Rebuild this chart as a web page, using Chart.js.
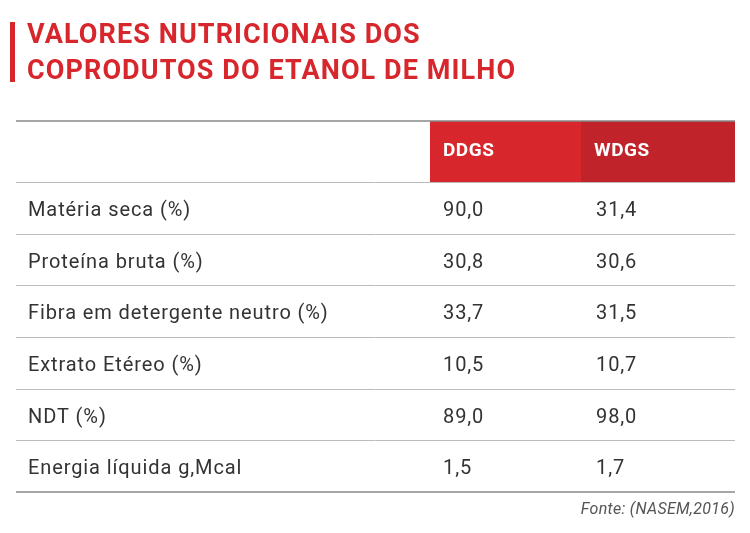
<!DOCTYPE html>
<html>
<head>
<meta charset="utf-8">
<script src="https://cdn.jsdelivr.net/npm/chart.js@4"></script>
<style>
  html, body { margin: 0; padding: 0; background: #fff; }
  #wrap { width: 750px; height: 533px; position: relative; }
</style>
</head>
<body>
<div id="wrap"><canvas id="tableChart"></canvas></div>
<script>
const titleLines = ['VALORES NUTRICIONAIS DOS', 'COPRODUTOS DO ETANOL DE MILHO'];
const columns = ['DDGS', 'WDGS'];
const categories = [
  'Matéria seca (%)',
  'Proteína bruta (%)',
  'Fibra em detergente neutro (%)',
  'Extrato Etéreo (%)',
  'NDT (%)',
  'Energia líquida g,Mcal'
];
const ddgsValues = [90.0, 30.8, 33.7, 10.5, 89.0, 1.5];
const wdgsValues = [31.4, 30.6, 31.5, 10.7, 98.0, 1.7];
const source = 'Fonte: (NASEM,2016)';

const fmt = v => v.toFixed(1).replace('.', ',');

// Draws the table on top of the (invisible) bars, rows placed by the y scale
const tablePlugin = {
  id: 'tablePlugin',
  afterDraw(chart) {
    const ctx = chart.ctx;
    const y = chart.scales.y;
    const area = chart.chartArea;
    const colX = [430, 581];
    const headTop = 121;
    const rowH = (area.bottom - area.top) / categories.length;
    ctx.save();

    // title
    ctx.fillStyle = '#d7262c';
    ctx.fillRect(10, 22, 5, 60);
    ctx.font = 'bold 27px Roboto, sans-serif';
    ctx.letterSpacing = '1.1px';
    ctx.textBaseline = 'middle';
    titleLines.forEach((t, i) => ctx.fillText(t, 27, 36 + i * 36));

    // header cells
    ctx.fillStyle = '#d7262c';
    ctx.fillRect(colX[0], headTop, colX[1] - colX[0], area.top - headTop);
    ctx.fillStyle = '#c1232a';
    ctx.fillRect(colX[1], headTop, area.right - colX[1], area.top - headTop);
    ctx.fillStyle = '#fff';
    ctx.font = 'bold 19px Roboto, sans-serif';
    ctx.letterSpacing = '0.5px';
    columns.forEach((c, i) => ctx.fillText(c, colX[i] + 13, (headTop + area.top) / 2));

    // lines
    ctx.strokeStyle = '#888';
    ctx.lineWidth = 1.5;
    [headTop, area.bottom].forEach(ly => {
      ctx.beginPath(); ctx.moveTo(area.left, ly); ctx.lineTo(area.right, ly); ctx.stroke();
    });
    ctx.strokeStyle = '#bbb';
    ctx.lineWidth = 1;
    for (let i = 0; i < categories.length; i++) {
      const ly = Math.round(y.getPixelForValue(i) - rowH / 2) + 0.5;
      ctx.beginPath(); ctx.moveTo(area.left, ly); ctx.lineTo(area.right, ly); ctx.stroke();
    }

    // cells
    ctx.fillStyle = '#333';
    ctx.font = '20px Roboto, sans-serif';
    ctx.letterSpacing = '0.9px';
    categories.forEach((c, i) => {
      const cy = y.getPixelForValue(i) + 3;
      ctx.fillText(c, 28, cy);
      ctx.fillText(fmt(ddgsValues[i]), colX[0] + 13, cy);
      ctx.fillText(fmt(wdgsValues[i]), colX[1] + 15, cy);
    });

    // source
    ctx.fillStyle = '#555';
    ctx.font = 'italic 16px Roboto, sans-serif';
    ctx.letterSpacing = '0.3px';
    ctx.textAlign = 'right';
    ctx.fillText(source, area.right, 510);
    ctx.restore();
  }
};

new Chart(document.getElementById('tableChart'), {
  type: 'bar',
  data: {
    labels: categories,
    datasets: [
      { label: columns[0], data: ddgsValues, backgroundColor: 'rgba(0,0,0,0)' },
      { label: columns[1], data: wdgsValues, backgroundColor: 'rgba(0,0,0,0)' }
    ]
  },
  options: {
    indexAxis: 'y',
    responsive: true,
    maintainAspectRatio: false,
    animation: false,
    layout: { padding: { top: 182, bottom: 41, left: 16, right: 15 } },
    scales: {
      x: { display: false },
      y: { display: false }
    },
    plugins: { legend: { display: false }, tooltip: { enabled: false } }
  },
  plugins: [tablePlugin]
});
</script>
</body>
</html>
